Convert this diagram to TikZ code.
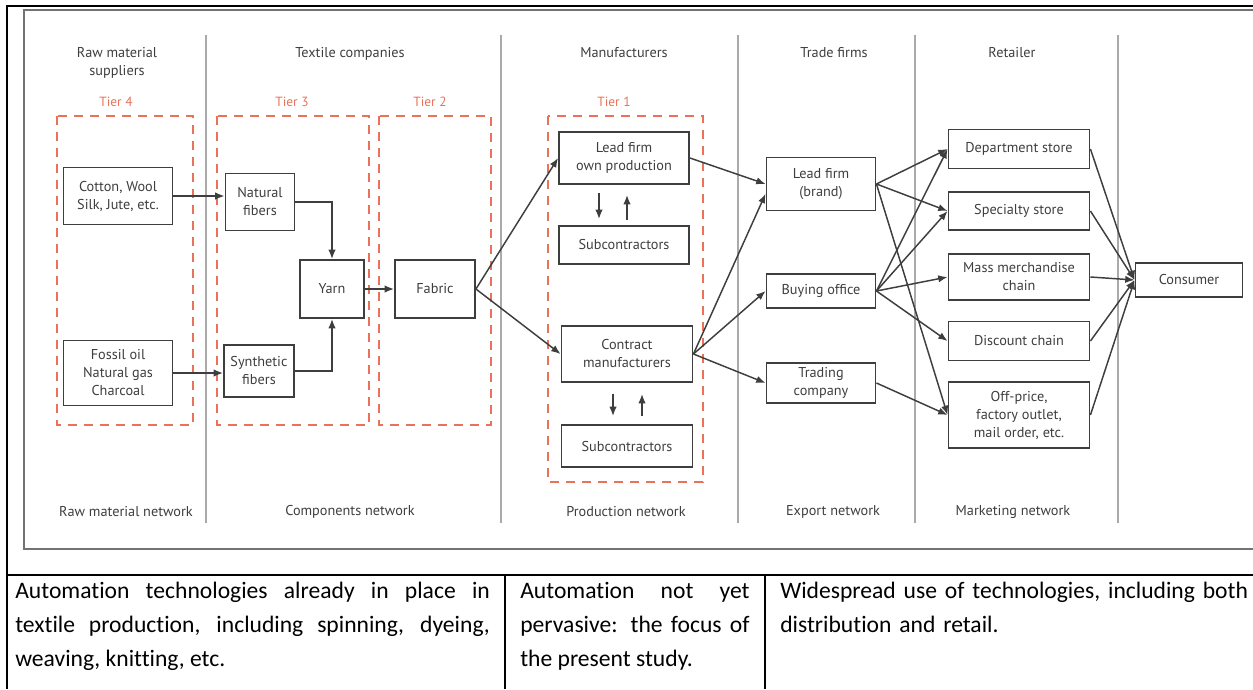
\documentclass[tikz,border=0pt]{standalone}
\usepackage{fontspec}
\setmainfont{PT Sans}
\newfontfamily\cellfont[Ligatures=CommonOff]{Carlito}
\usetikzlibrary{arrows.meta,calc}
\definecolor{tierred}{RGB}{233,114,88}
\definecolor{inkgray}{RGB}{62,62,62}
\definecolor{colgray}{RGB}{170,170,170}
\definecolor{framegray}{RGB}{115,115,115}

\begin{document}
\begin{tikzpicture}[x=.75pt,y=-.75pt,>={Latex[length=7pt,width=5.5pt]},
  font=\fontsize{10.7}{13.5}\selectfont,
  box/.style={draw=inkgray,line width=1.4pt,text=inkgray,align=center,inner sep=0pt},
  wh/.style 2 args={minimum width=#1*.75pt,minimum height=#2*.75pt},
  lbl/.style={text=inkgray,align=center},
  tierlbl/.style={text=tierred,font=\fontsize{10}{12}\selectfont},
  tierbox/.style={draw=tierred,line width=1.5pt,dash pattern=on 7pt off 5pt},
  flow/.style={->,draw=inkgray,line width=1.1pt},
  cell/.style={anchor=north west,inner sep=0pt,align=justify,font=\cellfont\fontsize{17.7}{25.5}\selectfont}]
\useasboundingbox (0,0) rectangle (1253,689);

% frame, table rules and column lines
\draw[framegray,line width=1.5pt] (1253,10) -- (24,10) -- (24,549) -- (1253,549);
\draw[line width=1.5pt] (1253,6) -- (7,6) -- (7,689);
\draw[line width=1.5pt] (7,575) -- (1253,575);
\foreach \x in {505,765} \draw[line width=1.5pt] (\x,575) -- (\x,689);
\foreach \x in {206,501,738,915,1118} \draw[colgray,line width=1.2pt] (\x,35) -- (\x,523);

% headers, tiers, network labels
\node[lbl,anchor=north] (hRaw) at (117,43) {Raw material\\suppliers};
\node[lbl,anchor=north] (hTex) at (350,43) {Textile companies};
\node[lbl,anchor=north] (hMan) at (624,43) {Manufacturers};
\node[lbl,anchor=north] (hTrd) at (834,43) {Trade firms};
\node[lbl,anchor=north] (hRet) at (1012,43) {Retailer};
\foreach \x/\n in {116/4,292/3,430/2,614/1}
  \node[tierlbl] (tier\n) at (\x,102) {Tier \n};
\draw[tierbox] (57,116) rectangle (193,425);
\draw[tierbox] (217,116) rectangle (369,425);
\draw[tierbox] (379,116) rectangle (491,425);
\draw[tierbox] (548,116) rectangle (703,482);
\node[lbl] (nRaw) at (126,512) {Raw material network};
\node[lbl] (nCmp) at (350,512) {Components network};
\node[lbl] (nPrd) at (626,512) {Production network};
\node[lbl] (nExp) at (833,512) {Export network};
\node[lbl] (nMkt) at (1013,512) {Marketing network};

% boxes
\node[box,wh={109}{57}] (cot) at (118,196) {Cotton, Wool\\Silk, Jute, etc.};
\node[box,wh={109}{65}] (fos) at (118,373) {Fossil oil\\Natural gas\\Charcoal};
\node[box,wh={69}{57}] (natf) at (260,202) {Natural\\fibers};
\node[box,wh={70}{52}] (synf) at (259,371) {Synthetic\\fibers};
\node[box,wh={64}{58}] (yarn) at (332,289) {Yarn};
\node[box,wh={80}{58}] (fab) at (435,289) {Fabric};
\node[box,wh={130}{52}] (lown) at (624,158) {Lead firm\\own production};
\node[box,wh={130}{38}] (subA) at (624,245) {Subcontractors};
\node[box,wh={131}{56}] (cman) at (627,354) {Contract\\manufacturers};
\node[box,wh={131}{42}] (subB) at (627,446) {Subcontractors};
\node[box,wh={109}{53}] (brand) at (821,184) {Lead firm\\(brand)};
\node[box,wh={109}{34}] (buy) at (821,291) {Buying office};
\node[box,wh={109}{40}] (trd) at (821,383) {Trading\\company};
\node[box,wh={141}{39}] (dept) at (1019,149) {Department store};
\node[box,wh={141}{38}] (spec) at (1019,211) {Specialty store};
\node[box,wh={141}{46}] (mass) at (1019,277) {Mass merchandise\\chain};
\node[box,wh={141}{39}] (disc) at (1019,341) {Discount chain};
\node[box,wh={141}{66}] (offp) at (1019,415) {Off-price,\\factory outlet,\\mail order, etc.};
\node[box,wh={107}{34}] (cons) at (1189,280) {Consumer};

% flows
\draw[flow] (cot.east) -- (cot.east -| natf.west);
\draw[flow] (fos.east) -- (fos.east -| synf.west);
\draw[flow] (natf.east) -| (yarn.north);
\draw[flow] (synf.east) -| (yarn.south);
\draw[flow] (yarn) -- (fab);
\draw[flow] (fab.east) -- (lown.west);
\draw[flow] (fab.east) -- (cman.west);
\draw[flow] ($(lown.south)+(-25,8)$) -- ($(subA.north)+(-25,-6)$);
\draw[flow] ($(subA.north)+(3,-5)$) -- ($(lown.south)+(3,10)$);
\draw[flow] ($(cman.south)+(-14,11)$) -- ($(subB.north)+(-14,-8)$);
\draw[flow] ($(subB.north)+(15,-8)$) -- ($(cman.south)+(15,11)$);
\draw[flow] (lown.east) -- (brand.west);
\draw[flow] (cman.east) -- (brand.190);
\draw[flow] (cman.east) -- (buy.west);
\draw[flow] (cman.east) -- (trd.west);
\foreach \n in {dept,spec,offp} \draw[flow] (brand.east) -- (\n.west);
\foreach \n in {dept,spec,mass,disc} \draw[flow] (buy.east) -- (\n.west);
\draw[flow] (trd.east) -- (offp.west);
\foreach \n in {dept,spec,mass,disc,offp} \draw[flow] (\n.east) -- (cons.west);

% table notes
\node[cell,text width=356pt] (noteA) at (15,582) {Automation technologies already in place in\linebreak textile production, including spinning, dyeing,\linebreak weaving, knitting, etc.};
\node[cell,text width=172pt] (noteB) at (520,582) {Automation not yet\linebreak pervasive: the focus of\linebreak the present study.};
\node[cell,align=left,text width=355pt] (noteC) at (780,582) {Widespread use of technologies, including both\\distribution and retail.};
\end{tikzpicture}
\end{document}
